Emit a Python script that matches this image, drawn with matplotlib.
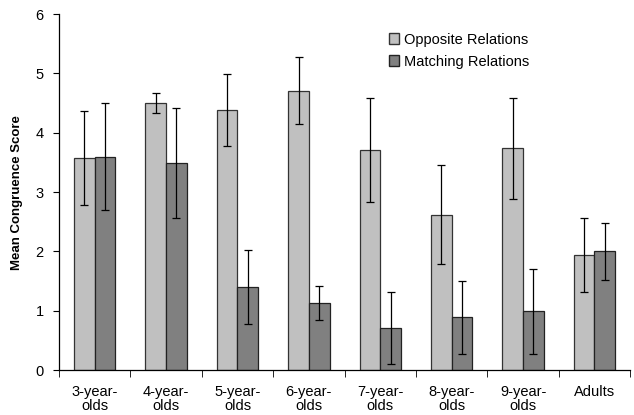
import numpy as np
import matplotlib.pyplot as plt
from matplotlib.patches import Patch

plt.rcParams['font.family'] = ['Liberation Sans', 'DejaVu Sans']

groups = ['3-year-\nolds', '4-year-\nolds', '5-year-\nolds', '6-year-\nolds',
          '7-year-\nolds', '8-year-\nolds', '9-year-\nolds', 'Adults']
opposite = [3.57, 4.50, 4.38, 4.71, 3.71, 2.62, 3.74, 1.94]
opposite_err = [0.79, 0.17, 0.61, 0.57, 0.88, 0.83, 0.85, 0.62]
matching = [3.60, 3.49, 1.40, 1.13, 0.71, 0.89, 0.99, 2.00]
matching_err = [0.90, 0.93, 0.63, 0.29, 0.60, 0.61, 0.71, 0.48]

fig = plt.figure(figsize=(6.34, 4.15), dpi=100)
ax = fig.add_axes([0.093, 0.108, 0.901, 0.858])

x = np.arange(len(groups))
w = 0.29
ax.bar(x - w / 2, opposite, w, color='#c0c0c0', edgecolor='#333333', linewidth=0.9,
       yerr=opposite_err, error_kw=dict(ecolor='black', elinewidth=0.9, capsize=3, capthick=0.9))
ax.bar(x + w / 2, matching, w, color='#808080', edgecolor='#222222', linewidth=0.9,
       yerr=matching_err, error_kw=dict(ecolor='black', elinewidth=0.9, capsize=3, capthick=0.9))

ax.set_xlim(-0.5, len(groups) - 0.5)
ax.set_ylim(0, 6)
ax.set_yticks(range(0, 7))
ax.tick_params(axis='y', labelsize=10.5, direction='out', length=4, pad=7)

ax.set_xticks(x)
ax.set_xticklabels(groups, fontsize=10.5, linespacing=1.0)
ax.tick_params(axis='x', length=0, pad=11)
ax.set_xticks(np.arange(-0.5, len(groups)), minor=True)
ax.tick_params(axis='x', which='minor', length=5, direction='out')

for s in ['top', 'right']:
    ax.spines[s].set_visible(False)
ax.spines['left'].set_linewidth(0.9)
ax.spines['bottom'].set_linewidth(0.9)

ax.set_ylabel('Mean Congruence Score', fontsize=9.5, fontweight='bold', labelpad=9)

handles = [Patch(facecolor='#c0c0c0', edgecolor='#333333', label='Opposite Relations'),
           Patch(facecolor='#808080', edgecolor='#222222', label='Matching Relations')]
ax.legend(handles=handles, frameon=False, fontsize=10.5, loc='upper left',
          bbox_to_anchor=(0.555, 0.985), handlelength=0.7, handleheight=0.7,
          handletextpad=0.3, labelspacing=0.55)

plt.savefig('out.png', dpi=100)
